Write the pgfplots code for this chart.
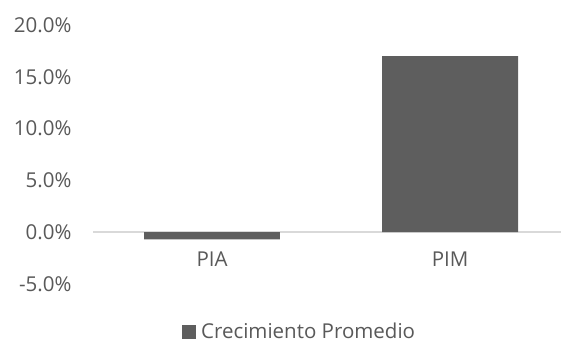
\documentclass[border=0pt]{standalone}
\usepackage{fontspec}
\setmainfont{Open Sans}
\usepackage{pgfplots}
\pgfplotsset{compat=1.18}
\definecolor{barfill}{HTML}{5E5E5E}
\definecolor{zeroline}{HTML}{D9D9D9}
\definecolor{labeltext}{HTML}{595959}
\begin{document}
\begin{tikzpicture}[x=1pt,y=1pt]
\path[use as bounding box] (0,0) rectangle (561,343);
\begin{axis}[
  at={(93pt,59pt)}, anchor=south west,
  width=468pt, height=259pt, scale only axis,
  xmin=-0.5, xmax=1.466, ymin=-5, ymax=20,
  axis x line=middle, axis y line=left,
  x axis line style={draw=zeroline, line width=1.5pt, -},
  y axis line style={draw=none},
  xtick={0,1}, xticklabels={PIA,PIM},
  ytick={-5,0,5,10,15,20},
  yticklabels={-5.0\%,0.0\%,5.0\%,10.0\%,15.0\%,20.0\%},
  major tick length=0pt,
  tick label style={font=\fontsize{20.5}{23}\selectfont, text=labeltext},
  yticklabel style={anchor=east, xshift=-18pt},
  xticklabel style={anchor=north, yshift=-16pt},
  ybar, bar width=0.571,
  legend style={at={(0.19,-0.184)}, anchor=west, draw=none, fill=none,
    inner sep=0pt, font=\fontsize{20.5}{23}\selectfont, text=labeltext},
  legend image code/.code={\fill[barfill] (0pt,-7pt) rectangle (14pt,7pt);
    \path (17pt,0pt);},
]
\addplot[fill=barfill, draw=none] coordinates {(0,-0.7) (1,17.0)};
\addlegendentry{Crecimiento Promedio}
\end{axis}
\end{tikzpicture}
\end{document}
